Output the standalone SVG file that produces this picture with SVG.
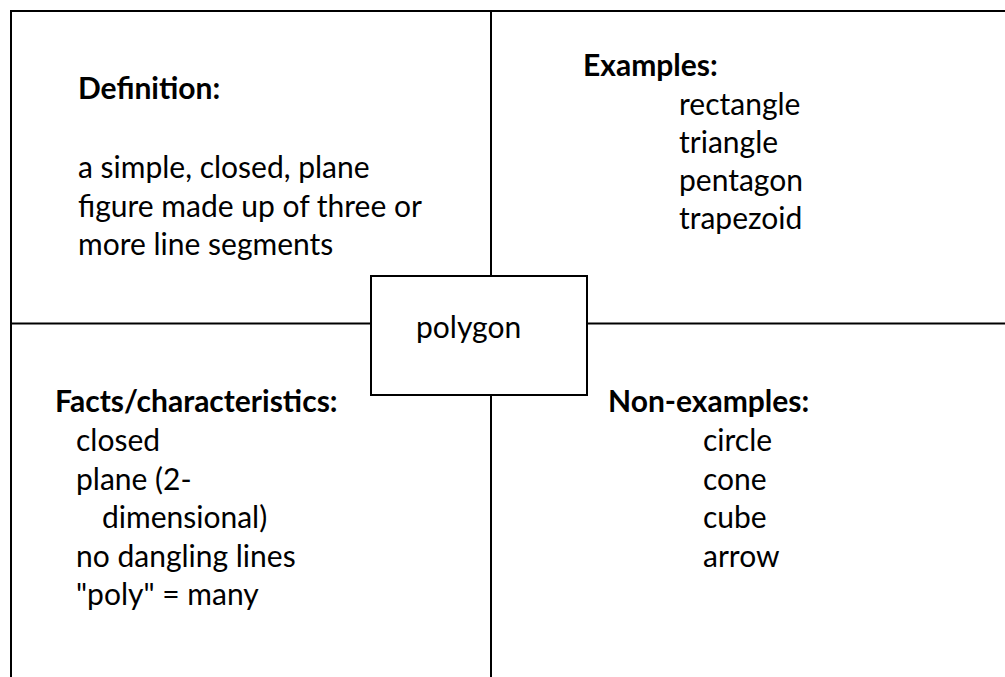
<svg xmlns="http://www.w3.org/2000/svg" width="1005" height="677" viewBox="0 0 1005 677">
<style>
.t{font-family:Lato,"Open Sans","Liberation Sans",sans-serif;font-size:30px;fill:#000}
.b{font-weight:bold}
.ln{stroke:#000;stroke-width:2;fill:none}
</style>
<rect width="1005" height="677" fill="#fff"/>
<g id="connectors">
<line class="ln" x1="10" y1="11" x2="1005" y2="11"/>
<line class="ln" x1="11" y1="10" x2="11" y2="677"/>
<line class="ln" x1="491" y1="11" x2="491" y2="276"/>
<line class="ln" x1="491" y1="395" x2="491" y2="677"/>
<line class="ln" x1="11" y1="323.5" x2="371" y2="323.5"/>
<line class="ln" x1="587" y1="323.5" x2="1005" y2="323.5"/>
</g>
<g id="center">
<rect class="ln" x="371" y="276" width="216" height="119" fill="#fff"/>
<text class="t" x="416" y="338">polygon</text>
</g>
<g id="definition">
<text class="t b" x="78" y="99">Definition:</text>
<text class="t" x="78" y="178">a simple, closed, plane</text>
<text class="t" x="78" y="216.5">figure made up of three or</text>
<text class="t" x="78" y="255">more line segments</text>
</g>
<g id="examples">
<text class="t b" x="583" y="76">Examples:</text>
<text class="t" x="679" y="114.5">rectangle</text>
<text class="t" x="679" y="152.8">triangle</text>
<text class="t" x="679" y="191">pentagon</text>
<text class="t" x="679" y="229">trapezoid</text>
</g>
<g id="facts">
<text class="t b" x="55" y="412">Facts/characteristics:</text>
<text class="t" x="76" y="451">closed</text>
<text class="t" x="76" y="489.5">plane (2-</text>
<text class="t" x="102" y="528">dimensional)</text>
<text class="t" x="76" y="566.7">no dangling lines</text>
<text class="t" x="76" y="605.3">"poly" = many</text>
</g>
<g id="nonexamples">
<text class="t b" x="608" y="412">Non-examples:</text>
<text class="t" x="703" y="451">circle</text>
<text class="t" x="703" y="489.5">cone</text>
<text class="t" x="703" y="528">cube</text>
<text class="t" x="703" y="566.7">arrow</text>
</g>
</svg>
